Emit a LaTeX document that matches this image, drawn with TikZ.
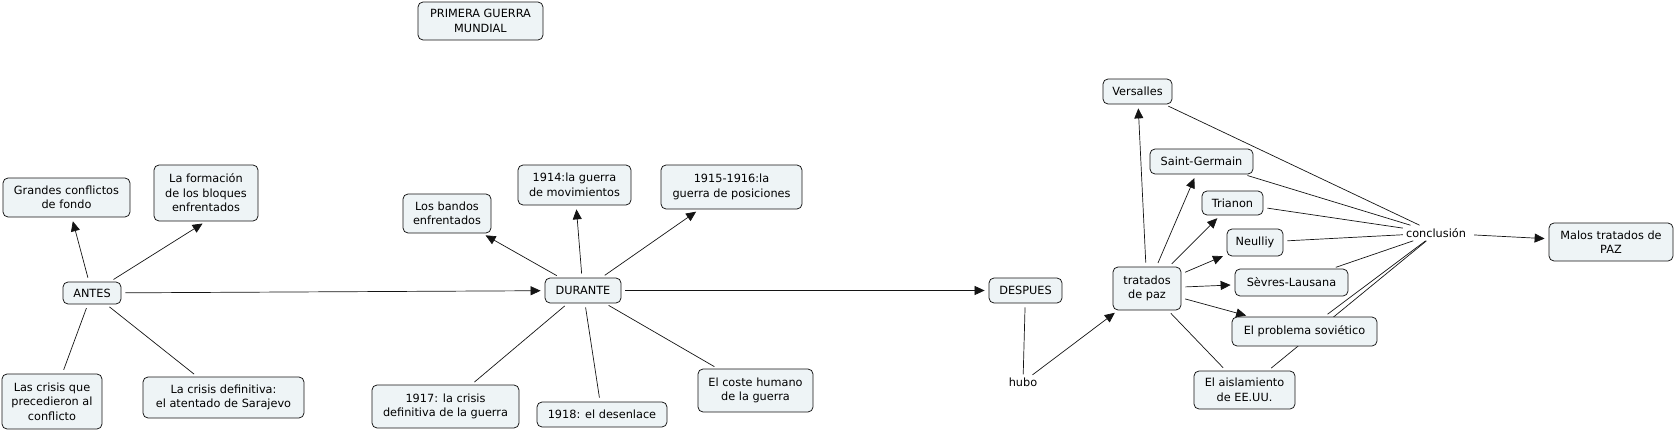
\documentclass[tikz,border=0pt]{standalone}
\usepackage{fontspec}
\setmainfont{DejaVu Sans}
\usetikzlibrary{arrows.meta,backgrounds}
\definecolor{boxfill}{RGB}{238,244,246}
\definecolor{edgecol}{RGB}{20,20,20}
\begin{document}
\begin{tikzpicture}[x=1pt,y=-1pt,
  txt/.style={font=\fontsize{11.3}{14.5}\selectfont},
  concept/.style={txt, draw=edgecol, line width=0.75pt, fill=boxfill, rounded corners=5pt, align=center, inner sep=2pt},
  linkword/.style={txt, inner sep=2pt},
  conn/.style={draw=edgecol, line width=0.7pt, shorten <=4pt, shorten >=4pt},
  arr/.style={conn, -{Triangle[length=10pt,width=9pt]}}]
\useasboundingbox (0,0) rectangle (1679,431);
% title
\node[concept, minimum width=125pt, minimum height=38pt] (primera) at (480.5,21) {PRIMERA GUERRA\\MUNDIAL};
% ANTES group
\node[concept, minimum width=58pt, minimum height=22pt] (antes) at (92,293) {ANTES};
\node[concept, minimum width=127pt, minimum height=39pt] (grandes) at (66.5,197.5) {Grandes conflictos\\de fondo};
\node[concept, minimum width=104pt, minimum height=56pt] (formacion) at (206,193) {La formación\\de los bloques\\enfrentados};
\node[concept, minimum width=100pt, minimum height=55pt] (crisisque) at (52,401.5) {Las crisis que\\precedieron al\\conflicto};
\node[concept, minimum width=161pt, minimum height=41pt] (crisisdef) at (223.5,397.5) {La crisis definitiva:\\el atentado de Sarajevo};
% DURANTE group
\node[concept, minimum width=76pt, minimum height=25pt] (durante) at (583,290.5) {DURANTE};
\node[concept, minimum width=88pt, minimum height=39pt] (bandos) at (447,213.5) {Los bandos\\enfrentados};
\node[concept, minimum width=113pt, minimum height=40pt] (m1914) at (574.5,185) {1914:la guerra\\de movimientos};
\node[concept, minimum width=141pt, minimum height=44pt] (m1915) at (731.5,187) {1915-1916:la\\guerra de posiciones};
\node[concept, minimum width=147pt, minimum height=43pt] (m1917) at (445.5,406.5) {1917: la crisis\\definitiva de la guerra};
\node[concept, minimum width=130pt, minimum height=25pt] (m1918) at (602,414.5) {1918: el desenlace};
\node[concept, minimum width=115pt, minimum height=43pt] (coste) at (755.5,390.5) {El coste humano\\de la guerra};
% DESPUES group
\node[concept, minimum width=73pt, minimum height=25pt] (despues) at (1025.5,290.5) {DESPUES};
\node[linkword] (hubo) at (1023,382) {hubo};
\node[concept, minimum width=68pt, minimum height=43pt] (tratados) at (1147,288.5) {tratados\\de paz};
\node[concept, minimum width=69pt, minimum height=25pt] (versalles) at (1137.5,91.5) {Versalles};
\node[concept, minimum width=103pt, minimum height=25pt] (saint) at (1201.5,161.5) {Saint-Germain};
\node[concept, minimum width=61pt, minimum height=24pt] (trianon) at (1232.5,203) {Trianon};
\node[concept, minimum width=56pt, minimum height=27pt] (neulliy) at (1255,242.5) {Neulliy};
\node[concept, minimum width=113pt, minimum height=27pt] (sevres) at (1291.5,282.5) {Sèvres-Lausana};
\node[concept, minimum width=145pt, minimum height=29pt] (problema) at (1304.5,331.5) {El problema soviético};
\node[concept, minimum width=101pt, minimum height=38pt] (aislamiento) at (1244.5,390) {El aislamiento\\de EE.UU.};
\node[linkword, inner sep=3pt] (concl) at (1436,233) {conclusión};
\node[concept, minimum width=124pt, minimum height=38pt] (malos) at (1611,242) {Malos tratados de\\PAZ};
\begin{scope}[on background layer]
  \draw[arr] (antes) -- (grandes);
  \draw[arr] (antes) -- (formacion.south);
  \draw[conn] (antes) -- (crisisque);
  \draw[conn] (antes) -- (crisisdef);
  \draw[arr] (antes) -- (durante);
  \draw[arr] (durante) -- (bandos);
  \draw[arr] (durante) -- (m1914);
  \draw[arr] (durante) -- (m1915);
  \draw[conn] (durante) -- (m1917);
  \draw[conn] (durante) -- (m1918);
  \draw[conn] (durante) -- (coste);
  \draw[arr] (durante) -- (despues);
  \draw[conn, shorten >=1pt] (despues) -- (hubo);
  \draw[arr, shorten <=1pt] (hubo) -- (tratados);
  \draw[arr] (tratados) -- (versalles);
  \draw[arr] (tratados) -- (saint);
  \draw[arr] (tratados) -- (trianon);
  \draw[arr] (tratados) -- (neulliy);
  \draw[arr] (tratados) -- (sevres);
  \draw[arr] (tratados) -- (problema);
  \draw[conn] (tratados) -- (aislamiento);
  \draw[conn, shorten >=0pt] (versalles) -- (concl);
  \draw[conn, shorten >=0pt] (saint) -- (concl);
  \draw[conn, shorten >=0pt] (trianon) -- (concl);
  \draw[conn, shorten >=0pt] (neulliy) -- (concl);
  \draw[conn, shorten >=0pt] (sevres) -- (concl);
  \draw[conn, shorten >=0pt] (problema) -- (concl);
  \draw[conn, shorten >=0pt] (aislamiento) -- (concl);
  \draw[arr, shorten <=5pt] (concl) -- (malos);
\end{scope}
\end{tikzpicture}
\end{document}
